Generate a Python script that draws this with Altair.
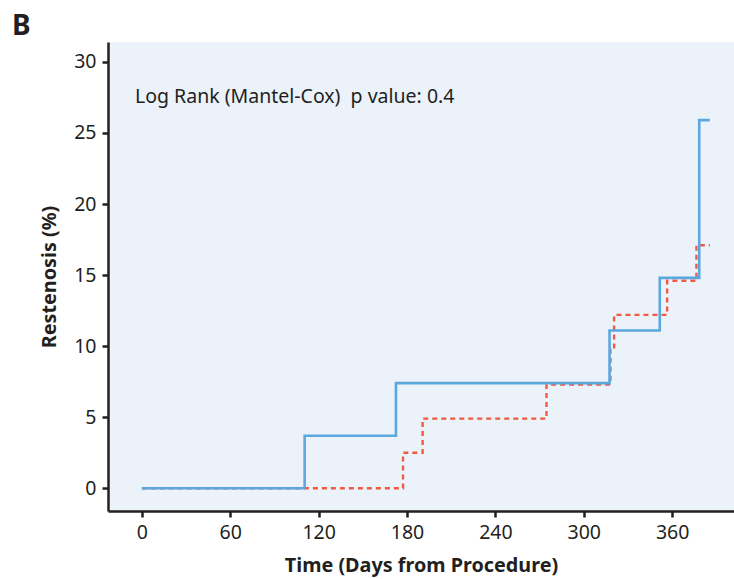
import altair as alt
import pandas as pd

# Blue (solid) group: step times (days) and cumulative restenosis (%)
blue_days = [0, 110.5, 172.5, 317.5, 351.6, 378.4, 385.6]
blue_vals = [0, 3.7, 7.4, 11.1, 14.8, 25.9, 25.9]

# Red (dashed) group
red_days = [0, 177.3, 190.6, 274.7, 318.1, 320.6, 356.6, 376.5, 385.6]
red_vals = [0, 2.5, 4.9, 7.3, 9.8, 12.2, 14.6, 17.1, 17.1]

x_ticks = [0, 60, 120, 180, 240, 300, 360]
y_ticks = [0, 5, 10, 15, 20, 25, 30]

annotation = "Log Rank (Mantel-Cox)\u00a0\u00a0p value: 0.4"
panel_label = "B"
x_title = "Time (Days from Procedure)"
y_title = "Restenosis (%)"

FONT = "Noto Sans"
INK = "#231F20"

df = pd.DataFrame(
    {"day": blue_days + red_days,
     "val": blue_vals + red_vals,
     "grp": ["blue"] * len(blue_days) + ["red"] * len(red_days)}
)

x_scale = alt.Scale(domain=[-23, 402], nice=False, zero=False)
y_scale = alt.Scale(domain=[-1.6, 31.4], nice=False, zero=False)

x_axis = alt.Axis(values=x_ticks, title=x_title, grid=False, domainColor=INK, domainWidth=2.5,
                  tickColor=INK, tickWidth=2.5, tickSize=6, labelFont=FONT, labelFontSize=19.5,
                  labelColor=INK, labelPadding=6, titleFont=FONT, titleFontSize=19.8,
                  titleFontWeight="bold", titleColor=INK, titlePadding=14)
y_axis = alt.Axis(values=y_ticks, title=y_title, grid=False, domainColor=INK, domainWidth=2.5,
                  tickColor=INK, tickWidth=2.5, tickSize=6, labelFont=FONT, labelFontSize=19.5,
                  labelColor=INK, labelPadding=6, titleFont=FONT, titleFontSize=19.8,
                  titleFontWeight="bold", titleColor=INK, titlePadding=14)

base = alt.Chart(df)

blue = base.transform_filter(alt.datum.grp == "blue").mark_line(
    interpolate="step-after", color="#5BA8DE", strokeWidth=2.6
).encode(x=alt.X("day:Q", scale=x_scale, axis=x_axis), y=alt.Y("val:Q", scale=y_scale, axis=y_axis))

red = base.transform_filter(alt.datum.grp == "red").mark_line(
    interpolate="step-after", color="#F05A40", strokeWidth=2.4, strokeDash=[5, 4]
).encode(x=alt.X("day:Q", scale=x_scale), y=alt.Y("val:Q", scale=y_scale))

txt = alt.Chart(pd.DataFrame({"t": [annotation]})).mark_text(
    align="left", baseline="middle", font=FONT, fontSize=19.5, color=INK
).encode(x=alt.value(27), y=alt.value(55), text="t:N")

lbl = alt.Chart(pd.DataFrame({"t": [panel_label]})).mark_text(
    align="left", baseline="alphabetic", font=FONT, fontSize=28, fontWeight="bold", color=INK
).encode(x=alt.value(-96), y=alt.value(-7), text="t:N")

chart = alt.layer(red, blue, txt, lbl).properties(
    width=626, height=469,
    autosize=alt.AutoSizeParams(type="none"),
    padding={"left": 108, "top": 42, "right": 0, "bottom": 68},
    background="white",
).configure_view(fill="#EBF2FA", strokeWidth=0)

chart.save("out.html", embed_options={"renderer": "svg", "actions": False})
